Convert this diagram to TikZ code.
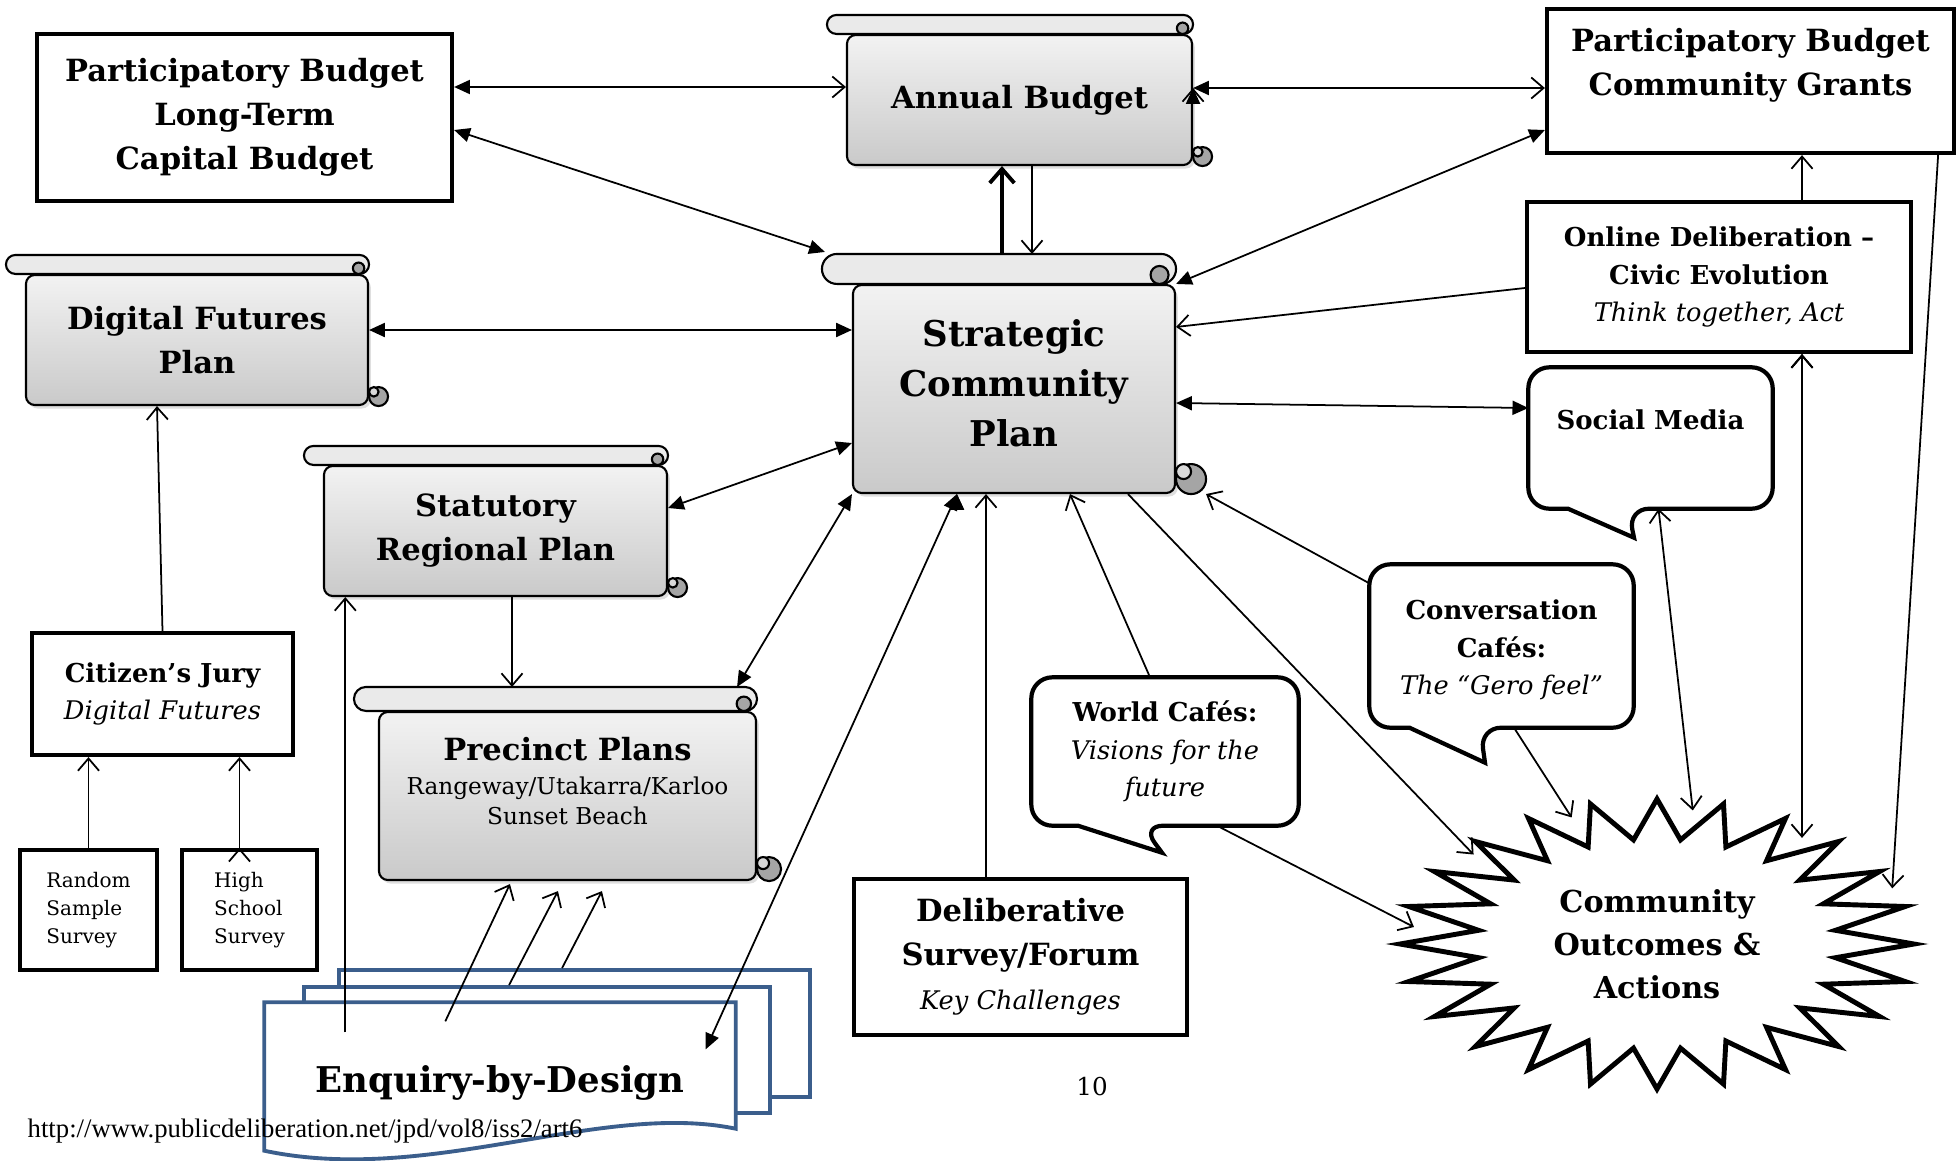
\documentclass[tikz,border=0pt]{standalone}
\usepackage{fontspec}
\setmainfont{DejaVu Serif}
\newfontfamily\urlfont{Liberation Serif}
\usetikzlibrary{arrows.meta,shapes.geometric,shadows}

\definecolor{docblue}{RGB}{59,94,140}
\definecolor{rollgray}{RGB}{234,234,234}
\definecolor{curlgray}{RGB}{165,165,165}

\newcommand{\subline}[1]{{\mdseries\itshape\fontsize{7.3}{10.5}\selectfont #1}}

% top roll and bottom curl of a scroll body
\newcommand{\scrollroll}[2]{%
  \coordinate (#1-top) at ([yshift=2*#2]#1.north);
  \coordinate (#1-tr) at ([yshift=2*#2]#1.north east);
  \draw[rollline, fill=rollgray] ([xshift=-#2]#1.north east) -- ([xshift=-#2]#1.north west)
    arc[start angle=270, end angle=90, radius=#2] -- ([xshift=-#2]#1-tr)
    arc[start angle=90, end angle=-90, radius=#2] -- cycle;
  \draw[rollline, fill=curlgray] ([xshift=-1.1*#2, yshift=0.6*#2]#1.north east) circle[radius=0.6*#2];
  \draw[rollline, fill=curlgray] ([xshift=#2, yshift=#2]#1.south east) circle[radius=#2];
  \draw[rollline, fill=gray!30] ([xshift=0.5*#2, yshift=1.5*#2]#1.south east) circle[radius=0.5*#2];
}

\tikzset{
  fa/.tip={Triangle[length=4.5pt,width=4pt]},
  oa/.tip={Straight Barb[length=3.5pt,width=6pt]},
  pbox/.style={draw, line width=1.2pt, align=center, inner sep=0pt},
  scrollbody/.style={draw, line width=0.6pt, top color=gray!10, bottom color=gray!42,
    rounded corners=2.5pt, align=center, inner sep=0pt,
    drop shadow={opacity=0.25, shadow xshift=0.8pt, shadow yshift=-1pt}},
  rollline/.style={line width=0.6pt},
  bubble/.style={line width=1.2pt, rounded corners=6pt},
  doc/.style={draw=docblue, line width=1.1pt, fill=white},
  link/.style={line width=0.5pt},
  bigtext/.style={font=\fontsize{8.7}{12.5}\selectfont\bfseries},
  hugetext/.style={font=\fontsize{10.1}{14.2}\selectfont\bfseries},
  smalltext/.style={font=\fontsize{7.4}{10.6}\selectfont\bfseries},
  plaintext/.style={font=\fontsize{5.7}{8}\selectfont},
}

\begin{document}
\begin{tikzpicture}
\useasboundingbox (0,0) rectangle (19.57,-11.60);

% budgets
\node[pbox, bigtext, minimum width=4.15cm, minimum height=1.67cm] (pbltc) at (2.445,-1.175) {Participatory Budget\\Long-Term\\Capital Budget};
\node[pbox, minimum width=4.07cm, minimum height=1.44cm] (pbcg) at (17.505,-0.81) {};
\node[bigtext, align=center] (pbcg-t) at ([yshift=0.155cm]pbcg.center) {Participatory Budget\\Community Grants};

% scrolls
\node[scrollbody, bigtext, minimum width=3.45cm, minimum height=1.30cm] (ab) at (10.195,-1.00) {Annual Budget};
\scrollroll{ab}{0.095cm}
\node[scrollbody, minimum width=3.22cm, minimum height=2.08cm] (scp) at (10.14,-3.89) {};
\scrollroll{scp}{0.15cm}
\node[hugetext, align=center] (scp-t) at ([yshift=0.06cm]scp.center) {Strategic\\Community\\Plan};
\node[scrollbody, bigtext, minimum width=3.42cm, minimum height=1.30cm] (dfp) at (1.97,-3.40) {Digital Futures\\Plan};
\scrollroll{dfp}{0.095cm}
\node[scrollbody, bigtext, minimum width=3.43cm, minimum height=1.30cm] (srp) at (4.955,-5.31) {Statutory\\Regional Plan};
\scrollroll{srp}{0.095cm}
\node[scrollbody, minimum width=3.77cm, minimum height=1.68cm] (pp) at (5.675,-7.96) {};
\scrollroll{pp}{0.12cm}
\node[align=center, font=\fontsize{6.6}{8.5}\selectfont] (pp-t) at ([yshift=0.15cm]pp.center)
  {{\fontsize{8.7}{12.5}\selectfont\bfseries Precinct Plans}\\[1pt]Rangeway/Utakarra/Karloo\\Sunset Beach};

% boxes
\node[pbox, smalltext, minimum width=3.84cm, minimum height=1.50cm] (onl) at (17.19,-2.77) {Online Deliberation --\\Civic Evolution\\\subline{Think together, Act}};
\node[pbox, smalltext, minimum width=2.61cm, minimum height=1.22cm] (cj) at (1.625,-6.94) {Citizen’s Jury\\\subline{Digital Futures}};
\node[pbox, plaintext, align=left, minimum width=1.37cm, minimum height=1.20cm] (rss) at (0.885,-9.10) {Random\\Sample\\Survey};
\node[pbox, plaintext, align=left, minimum width=1.35cm, minimum height=1.20cm] (hss) at (2.495,-9.10) {High\\School\\Survey};
\node[pbox, bigtext, minimum width=3.33cm, minimum height=1.56cm] (dsf) at (10.205,-9.57) {Deliberative\\Survey/Forum\\\subline{Key Challenges}};

% speech bubbles
\node[minimum width=2.43cm, minimum height=1.40cm] (sm) at (16.505,-4.38) {};
\node[smalltext] (sm-t) at ([yshift=0.18cm]sm.center) {Social Media};
\draw[bubble] (sm.north) -- (sm.north east) -- (sm.south east) -- ([xshift=-0.225cm]sm.south)
  [sharp corners] -- ([xshift=-0.165cm,yshift=-0.29cm]sm.south) -- ([xshift=-0.825cm]sm.south) -- ([xshift=-0.84cm]sm.south)
  [rounded corners=6pt] -- (sm.south west) -- (sm.north west) -- cycle;
\node[minimum width=2.63cm, minimum height=1.62cm] (cc) at (15.015,-6.46) {};
\node[smalltext, align=center] (cc-t) at ([yshift=-0.04cm]cc.center) {Conversation\\Cafés:\\\subline{The “Gero feel”}};
\draw[bubble] (cc.north) -- (cc.north east) -- (cc.south east) -- ([xshift=-0.215cm]cc.south)
  [sharp corners] -- ([xshift=-0.165cm,yshift=-0.35cm]cc.south) -- ([xshift=-0.92cm]cc.south) -- ([xshift=-0.935cm]cc.south)
  [rounded corners=6pt] -- (cc.south west) -- (cc.north west) -- cycle;
\node[smalltext, align=center, minimum width=2.66cm, minimum height=1.47cm] (wc) at (11.65,-7.515) {World Cafés:\\\subline{Visions for the}\\\subline{future}};
\draw[bubble] (wc.north) -- (wc.north east) -- (wc.south east) -- ([xshift=-0.23cm]wc.south)
  [sharp corners] -- ([xshift=-0.03cm,yshift=-0.27cm]wc.south) -- ([xshift=-0.87cm]wc.south) -- ([xshift=-0.885cm]wc.south)
  [rounded corners=6pt] -- (wc.south west) -- (wc.north west) -- cycle;

% outcomes star
\node[ellipse, align=center, minimum width=4.9cm, minimum height=2.7cm, inner sep=0pt, outer sep=0pt,
  font=\fontsize{8.6}{12.2}\selectfont\bfseries] (coa) at (16.57,-9.44) {Community\\Outcomes \&\\Actions};
\draw[line width=1.4pt, shift={(coa.center)}] (90:2.57 and 1.45)
  \foreach \k [evaluate=\k as \rx using {2.57-0.77*mod(\k,2)}, evaluate=\k as \ry using {1.45-0.40*mod(\k,2)}] in {1,...,47}
  { -- ({90+7.5*\k}:{\rx} and {\ry}) } -- cycle;

% enquiry-by-design documents
\node[doc, minimum width=4.71cm, minimum height=1.27cm] (ebd3) at (5.745,-10.335) {};
\node[doc, minimum width=4.66cm, minimum height=1.26cm] (ebd2) at (5.37,-10.50) {};
\node[minimum width=4.70cm, minimum height=1.25cm, inner sep=0pt] (ebd) at (5.00,-10.655) {};
\draw[doc] (ebd.south east) -- (ebd.north east) -- (ebd.north west) -- ([yshift=-0.22cm]ebd.south west)
  .. controls ([xshift=1.65cm,yshift=-0.57cm]ebd.south west) and ([xshift=-1.35cm,yshift=0.28cm]ebd.south east) .. (ebd.south east) -- cycle;
\node[font=\fontsize{10.1}{12}\selectfont\bfseries] (ebd-t) at ([yshift=-0.17cm]ebd.center) {Enquiry-by-Design};

% connectors
\path[link, draw, fa-fa]
  ([yshift=-0.125cm]pbltc.east) edge ([xshift=-0.27cm,yshift=0.32cm]scp.north west)
  ([yshift=-0.49cm]pbcg.west) edge (scp.north east)
  ([yshift=-0.14cm]scp.east) edge ([yshift=0.30cm]sm.west)
  ([yshift=0.1cm]dfp.east) edge ([yshift=0.1cm]dfp.east -| scp.west)
  ([yshift=0.23cm]srp.east) edge ([yshift=-0.54cm]scp.west)
  ([xshift=-0.2cm]pp-tr) edge (scp.south west)
  ([xshift=1.05cm]scp.south west) edge ([xshift=-0.3cm,yshift=-0.47cm]ebd.north east);
\path[link, draw, fa-oa]
  ([yshift=0.305cm]pbltc.east) edge ([yshift=0.305cm]pbltc.east -| ab.west)
  ([yshift=0.12cm]ab.east) edge ([yshift=0.12cm]ab.east -| pbcg.west);
\path[link, draw, -oa]
  ([xshift=0.125cm]ab.south) edge ([xshift=0.125cm]ab.south |- scp-top)
  ([yshift=-0.11cm]onl.west) edge ([yshift=-0.43cm]scp.north east)
  ([xshift=0.165cm]srp.south) edge ([xshift=0.165cm]srp.south |- pp-top)
  ([xshift=0.81cm,yshift=-0.3cm]ebd.north west) edge ([xshift=0.81cm]ebd.north west |- srp.south)
  ([xshift=1.81cm,yshift=-0.19cm]ebd.north west) edge ([xshift=1.32cm,yshift=-0.03cm]pp.south west)
  ([xshift=2.07cm]ebd2.north west) edge ([xshift=1.80cm,yshift=-0.1cm]pp.south west)
  ([xshift=2.25cm]ebd3.north west) edge ([xshift=2.24cm,yshift=-0.1cm]pp.south west)
  ([xshift=-0.345cm]dsf.north) edge ([xshift=-0.345cm]dsf.north |- scp.south)
  ([xshift=-0.15cm]wc.north) edge ([xshift=0.56cm]scp.south)
  ([xshift=1.14cm]scp.south) edge (coa.154)
  ([yshift=-0.19cm]cc.north west) edge ([xshift=0.3cm]scp.south east)
  ([xshift=0.52cm]wc.south) edge (coa.176)
  ([xshift=0.125cm]cc.south) edge (coa.124)
  ([xshift=0.83cm]onl.north) edge ([xshift=0.83cm]onl.north |- pbcg.south)
  ([xshift=-0.18cm]pbcg.south east) edge ([xshift=0.12cm]coa.14)
  (cj.north) edge ([xshift=-0.4cm]dfp.south)
  (rss.north) edge (rss.north |- cj.south)
  ([xshift=-0.1cm]hss.north) edge ([xshift=-0.1cm]hss.north |- cj.south);
\path[link, draw, oa-oa]
  ([xshift=0.08cm]sm.south) edge (coa.75)
  ([xshift=0.83cm]onl.south) edge ([xshift=0.83cm]onl.south |- coa.35);
\draw[line width=1.1pt, -{Straight Barb[length=4pt,width=7pt]}] ([xshift=-0.12cm]scp-top) -- ([xshift=-0.12cm]scp-top |- ab.south);

% page texts
\node[font=\fontsize{7}{8}\selectfont] (pgno) at (10.92,-10.87) {10};
\node[font=\urlfont\fontsize{7.6}{9}\selectfont, anchor=west, inner sep=0pt] (url) at (0.27,-11.31) {http://www.publicdeliberation.net/jpd/vol8/iss2/art6};
\end{tikzpicture}
\end{document}
